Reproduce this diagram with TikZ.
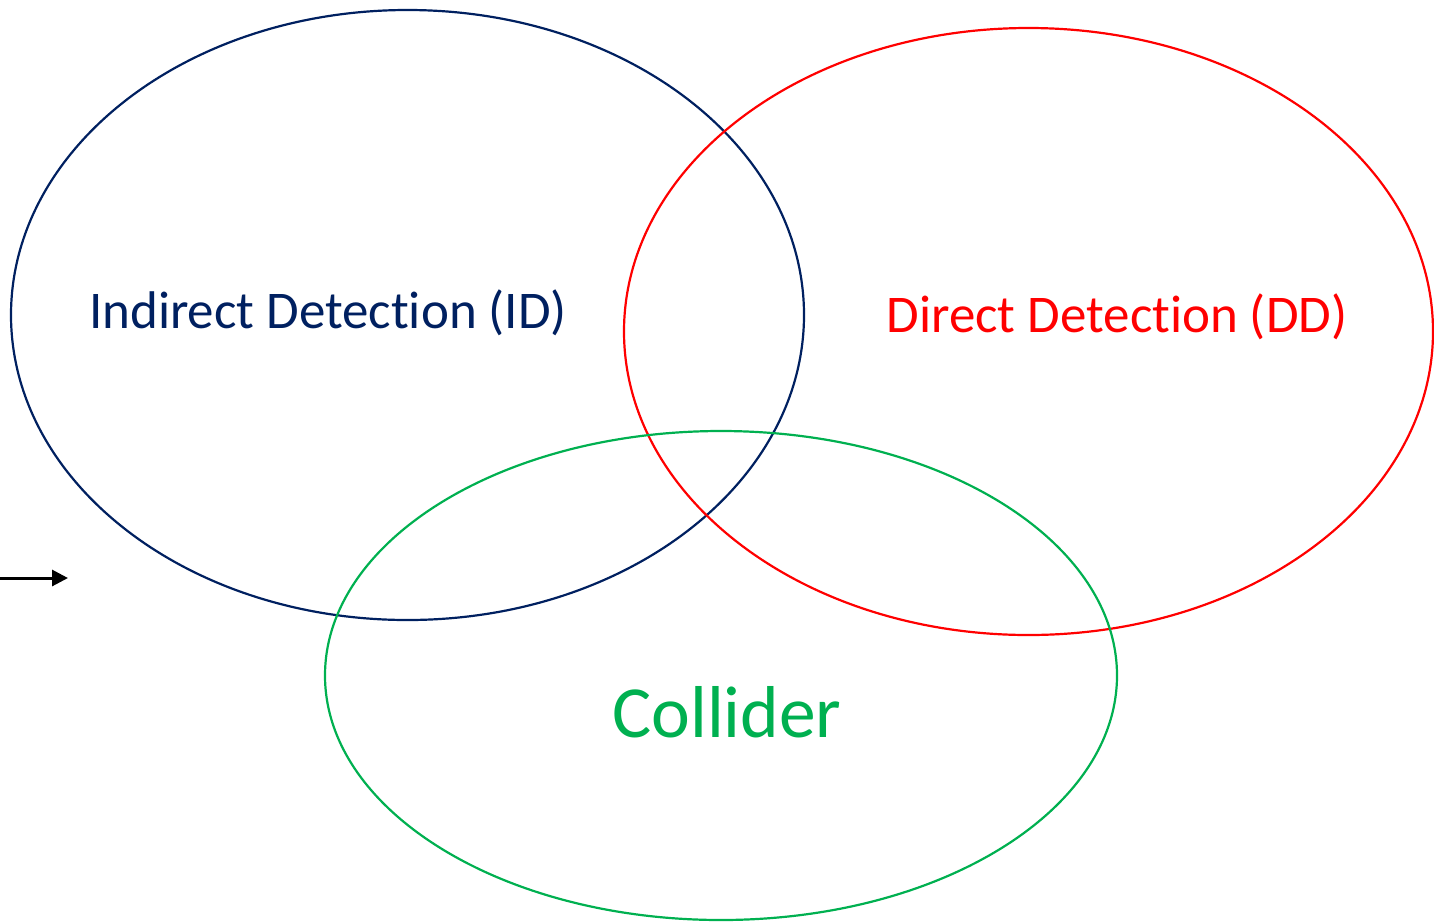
\documentclass[tikz,border=0pt]{standalone}
\usepackage{fontspec}
\setmainfont{Carlito}
\usetikzlibrary{arrows.meta}
\definecolor{idnavy}{HTML}{002060}
\definecolor{ddred}{HTML}{FF0000}
\definecolor{colgreen}{HTML}{00B050}
% keep "t" and "i" as separate glyphs in "Detection"
\newcommand{\detword}{Detec\mbox{t}ion}
\begin{document}
\begin{tikzpicture}[x=1pt,y=-1pt,
  ring/.style={line width=2.2pt},
  lbl/.style={inner sep=0pt, anchor=center}]
\useasboundingbox (0,0) rectangle (1434,922);
% three overlapping search regions
\draw[ring, idnavy] (407.5,315) ellipse [x radius=396.5, y radius=305];
\draw[ring, ddred] (1028.5,331.5) ellipse [x radius=404.5, y radius=303.5];
\draw[ring, colgreen] (721,675.5) ellipse [x radius=396, y radius=244.5];
% labels
\node[lbl, text=idnavy, font=\fontsize{53}{64}\selectfont] (id) at (328,313) {Indirect \detword{} (ID)};
\node[lbl, text=ddred, font=\fontsize{53}{64}\selectfont] (dd) at (1117,317) {Direct \detword{} (DD)};
\node[lbl, text=colgreen, font=\fontsize{73.5}{88}\selectfont] (col) at (727,712) {Collider};
% pointer at the left edge
\coordinate (pa) at (0,578);
\coordinate (pb) at (68,578);
\draw[line width=3pt, -{Triangle[length=16pt,width=16pt]}] (pa) -- (pb);
\end{tikzpicture}
\end{document}
